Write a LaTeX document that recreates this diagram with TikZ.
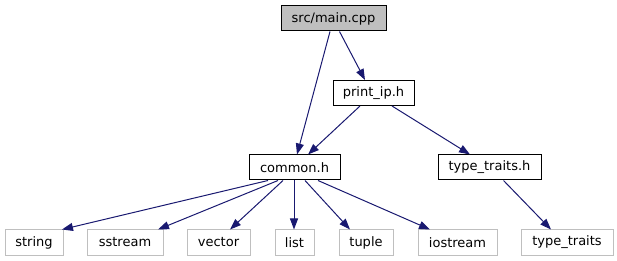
\documentclass[tikz,border=0pt]{standalone}
\usepackage{fontspec}
\setmainfont{DejaVu Sans}
\usetikzlibrary{arrows.meta}
\definecolor{edgeblue}{HTML}{191970}
\definecolor{boxgray}{HTML}{BFBFBF}

\begin{document}
\begin{tikzpicture}[x=1pt, y=-1pt, font=\fontsize{13}{15}\selectfont,
  hdr/.style={draw=black, line width=1pt, minimum height=25pt, inner sep=0pt},
  sys/.style={draw=boxgray, line width=1pt, minimum height=25pt, inner sep=0pt},
  dep/.style={-{Triangle[length=11pt,width=8pt]}, edgeblue, line width=1pt}]
  % 1 unit = 1 pixel of the graph, y grows downwards
  \useasboundingbox (0,0) rectangle (617,261);
  \node[hdr, fill=boxgray, minimum width=105pt] (main) at (333.5,18.5) {src/main.cpp};
  \node[hdr, minimum width=81pt] (printip) at (373.5,93) {print\_ip.h};
  \node[hdr, minimum width=91pt] (common) at (294.5,167.5) {common.h};
  \node[hdr, minimum width=103pt] (ttraitsh) at (489.5,167.5) {type\_traits.h};
  % system headers
  \node[sys, minimum width=58pt] (string) at (34,242.5) {string};
  \node[sys, minimum width=76pt] (sstream) at (125,242.5) {sstream};
  \node[sys, minimum width=63pt] (vector) at (218.5,242.5) {vector};
  \node[sys, minimum width=39pt] (list) at (294.5,242.5) {list};
  \node[sys, minimum width=54pt] (tuple) at (366,242.5) {tuple};
  \node[sys, minimum width=79pt] (iostream) at (457.5,242.5) {iostream};
  \node[sys, minimum width=92pt] (ttraits) at (567,242.5) {type\_traits};
  % include edges
  \draw[dep] ([xshift=-3.5pt]main.south) -- ([xshift=2.5pt]common.north);
  \draw[dep] ([xshift=6pt]main.south) -- ([xshift=-8.5pt]printip.north);
  \draw[dep] ([xshift=-13.5pt]printip.south) -- ([xshift=13.5pt]common.north);
  \draw[dep] ([xshift=18.5pt]printip.south) -- ([xshift=-19.5pt]ttraitsh.north);
  \draw[dep] ([xshift=-26.5pt]common.south) -- ([xshift=28pt]string.north);
  \draw[dep] ([xshift=-16.5pt]common.south) -- ([xshift=33pt]sstream.north);
  \draw[dep] ([xshift=-11.5pt]common.south) -- ([xshift=11.5pt]vector.north);
  \draw[dep] ([xshift=-0.5pt]common.south) -- ([xshift=-0.5pt]list.north);
  \draw[dep] ([xshift=10.5pt]common.south) -- ([xshift=-16pt]tuple.north);
  \draw[dep] ([xshift=23.5pt]common.south) -- ([xshift=-27.5pt]iostream.north);
  \draw[dep] ([xshift=14pt]ttraitsh.south) -- ([xshift=-16pt]ttraits.north);
\end{tikzpicture}
\end{document}
